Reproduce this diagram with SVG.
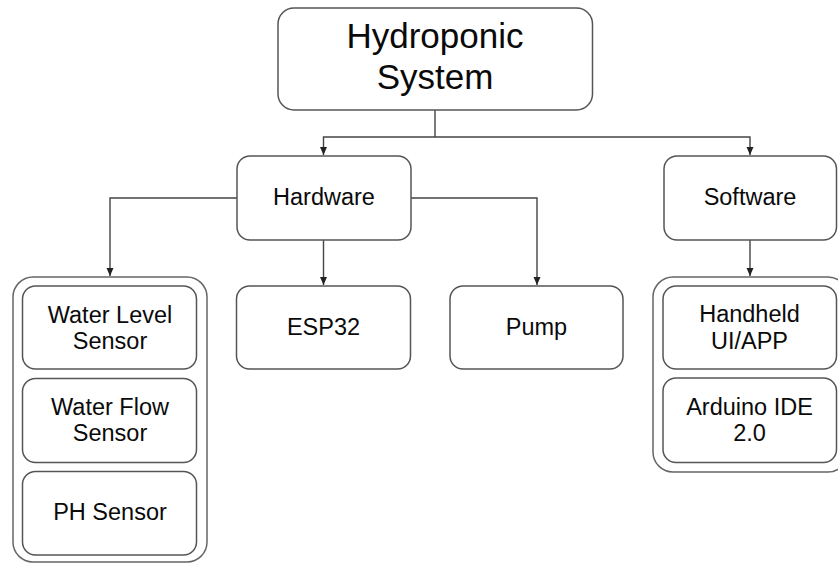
<svg xmlns="http://www.w3.org/2000/svg" width="838" height="563" viewBox="0 0 838 563">
<defs>
<marker id="arr" markerWidth="10" markerHeight="10" refX="9" refY="5" orient="auto" markerUnits="userSpaceOnUse">
<path d="M1,1.5 L9,5 L1,8.5 Z" fill="#222"/>
</marker>
</defs>
<style>
.box{fill:#fff;stroke:#555;stroke-width:1.5}
.cont{fill:#fff;stroke:#666;stroke-width:1.5}
.t{font-family:"Liberation Sans",Arial,sans-serif;font-size:23.5px;fill:#0a0a0a;text-anchor:middle}
.big{font-size:35px}
.c{fill:none;stroke:#444;stroke-width:1.4}
</style>
<rect width="838" height="563" fill="#fff"/>
<g id="connectors">
<path class="c" d="M435,110 V137"/>
<path class="c" d="M435,137 H323.5 V155" marker-end="url(#arr)"/>
<path class="c" d="M435,137 H750 V155" marker-end="url(#arr)"/>
<path class="c" d="M237,198 H110 V276" marker-end="url(#arr)"/>
<path class="c" d="M323.5,240 V285" marker-end="url(#arr)"/>
<path class="c" d="M411,198 H537 V285" marker-end="url(#arr)"/>
<path class="c" d="M750,240 V276" marker-end="url(#arr)"/>
</g>
<g id="hydroponic-system">
<rect class="box" x="278" y="8" width="314.5" height="102" rx="16"/>
<text class="t big" x="435" y="48">Hydroponic</text>
<text class="t big" x="435" y="89">System</text>
</g>
<g id="hardware">
<rect class="box" x="237" y="156" width="174" height="84" rx="13"/>
<text class="t" x="324" y="205">Hardware</text>
</g>
<g id="software">
<rect class="box" x="664" y="156" width="172.5" height="84" rx="13"/>
<text class="t" x="750" y="205">Software</text>
</g>
<g id="sensors-group">
<rect class="cont" x="13" y="277" width="194" height="285" rx="20"/>
</g>
<g id="water-level-sensor">
<rect class="box" x="22.5" y="286" width="174" height="83" rx="13"/>
<text class="t" x="110" y="322.5">Water Level</text>
<text class="t" x="110" y="348.5">Sensor</text>
</g>
<g id="water-flow-sensor">
<rect class="box" x="22.5" y="378.5" width="174" height="84" rx="13"/>
<text class="t" x="110" y="415">Water Flow</text>
<text class="t" x="110" y="440.5">Sensor</text>
</g>
<g id="ph-sensor">
<rect class="box" x="22.5" y="471.5" width="174" height="83.5" rx="13"/>
<text class="t" x="110" y="520">PH Sensor</text>
</g>
<g id="esp32">
<rect class="box" x="236.5" y="286" width="174" height="83" rx="13"/>
<text class="t" x="323.5" y="335">ESP32</text>
</g>
<g id="pump">
<rect class="box" x="450" y="286" width="173" height="83" rx="13"/>
<text class="t" x="536.5" y="335">Pump</text>
</g>
<g id="software-group">
<rect class="cont" x="653" y="277" width="195" height="195" rx="20"/>
</g>
<g id="handheld-ui-app">
<rect class="box" x="663" y="286" width="173.5" height="83" rx="13"/>
<text class="t" x="749.5" y="322">Handheld</text>
<text class="t" x="749.5" y="348.5">UI/APP</text>
</g>
<g id="arduino-ide">
<rect class="box" x="663" y="378" width="173.5" height="84.5" rx="13"/>
<text class="t" x="749.5" y="415">Arduino IDE</text>
<text class="t" x="749.5" y="440.5">2.0</text>
</g>
</svg>
